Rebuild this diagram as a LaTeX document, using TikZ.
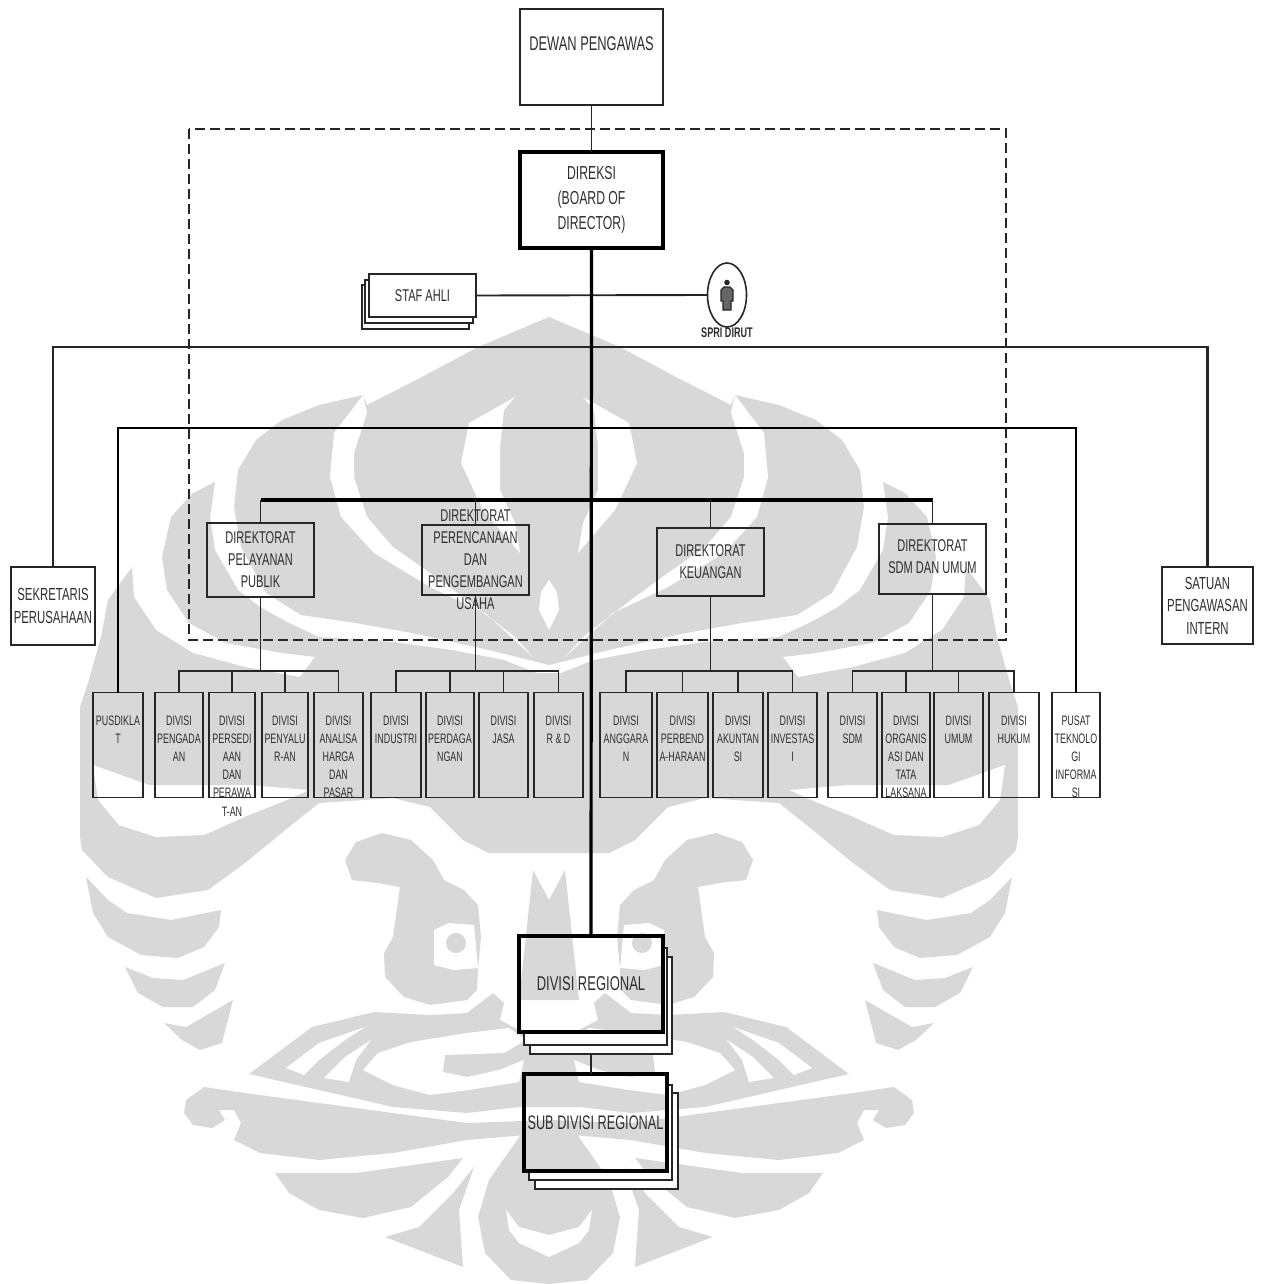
\documentclass[tikz,border=0pt]{standalone}
\usepackage{fontspec}
\setmainfont[FakeStretch=0.65]{Liberation Sans}
\usetikzlibrary{shapes.geometric}
\definecolor{wmgray}{HTML}{D8D8D8}
\definecolor{ink}{HTML}{262626}
\definecolor{txt}{HTML}{2E2E2E}
\tikzset{x=1pt,y=-1pt,every node/.style={text=txt,inner sep=0pt,outer sep=0pt,align=center},
link/.style={draw=ink,line width=1.9pt},bus/.style={draw=ink,line width=2.5pt},midbus/.style={draw=black,line width=2.8pt},bar/.style={draw=black,line width=3.2pt},
layer/.style={draw=ink,line width=1.2pt,fill=white},
box/.style={draw=ink,line width=1.8pt},heavy/.style={draw=black,line width=3.6pt},
dirbox/.style={box,minimum width=107pt},dirtext/.style={font=\fontsize{17}{22}\selectfont},
divlabel/.style={anchor=north,yshift=-23pt,font=\fontsize{13.7}{18.2}\selectfont}}
\begin{document}
\begin{tikzpicture}
\useasboundingbox (0,0) rectangle (1260,1284);
% watermark, one half mirrored about the axis
\foreach \s in {1,-1}{\begin{scope}[shift={(549,0)},xscale=\s]
\fill[wmgray] (0,317)--(-71,347)--(-127,377)--(-182,405)--(-186,395)--(-230,405)--(-267,420)--(-293,440)--(-311,470)--(-315,507)--(-308,547)--(-283,593)--(-248,615)--(-193,623)--(-137,633)--(-60,650)--(0,665)--cycle;
\fill[wmgray] (-334,482)--(-339,517)--(-334,550)--(-311,590)--(-289,607)--(-260,623)--(-230,637)--(-156,642)--(-97,650)--(-45,660)--(-12,673)--(0,673)--(0,853)--(-60,853)--(-86,840)--(-119,807)--(-156,798)--(-230,803)--(-260,827)--(-304,863)--(-341,890)--(-393,898)--(-441,877)--(-467,850)--(-469,837)--(-469,707)--(-461,683)--(-448,637)--(-441,600)--(-417,567)--(-415,597)--(-393,630)--(-356,653)--(-304,667)--(-249,677)--(-234,657)--(-267,653)--(-323,643)--(-360,623)--(-382,590)--(-387,557)--(-378,517)--(-356,493)--cycle;
\fill[white] (-186,395)--(-215,433)--(-219,477)--(-208,517)--(-175,553)--(-119,587)--(-64,613)--(-16,657)--(-34,637)--(-82,600)--(-119,573)--(-156,547)--(-182,517)--(-195,477)--(-195,453)--(-182,413)--cycle;
\fill[white] (-34,397)--(-80,423)--(-88,463)--(-66,510)--(-29,553)--(-34,523)--(-49,490)--(-49,447)--(-45,410)--cycle;
\fill[white] (0,580)--(-8,592)--(-10,610)--(0,630)--cycle;
\fill[white] (-456,765)--(-451,800)--(-430,825)--(-393,837)--(-345,835)--(-300,815)--(-262,800)--(-240,790)--(-300,785)--(-400,785)--cycle;
% snake head and eye
\fill[wmgray] (-204,860)--(-193,842)--(-167,833)--(-138,840)--(-116,860)--(-105,880)--(-85,890)--(-71,905)--(-68,937)--(-71,970)--(-72,990)--(-82,1000)--(-119,1005)--(-145,997)--(-164,977)--(-165,953)--(-156,937)--(-149,887)--(-171,883)--(-197,880)--cycle;
\fill[white] (-115,930)--(-100,923)--(-75,925)--(-71,968)--(-95,970)--(-115,965)--cycle;
\fill[wmgray] (-93,943) circle(10);
\fill[wmgray] (-30,1000)--(-16,870)--(0,900)--(0,1000)--cycle;
% lower wings
\fill[wmgray] (-300,1074)--(-237,1027)--(-175,1012)--(-119,1015)--(-82,1013)--(-56,993)--(-45,1003)--(-49,1020)--(-30,1030)--(0,1035)--(0,1107)--(-30,1107)--(-82,1113)--(-156,1107)--(-230,1090)--cycle;
\fill[white] (-186,1070)--(-171,1053)--(-138,1042)--(-82,1033)--(-40,1028)--(-23,1040)--(-45,1053)--(-104,1055)--(-106,1072)--(-82,1077)--(-50,1070)--(-25,1060)--(-30,1082)--(-80,1090)--(-119,1095)--(-156,1085)--cycle;
\fill[white] (-263,1068)--(-230,1043)--(-184,1027)--(-204,1040)--(-230,1060)--(-245,1075)--cycle;
\fill[white] (-225,1078)--(-204,1057)--(-178,1040)--(-193,1060)--(-200,1082)--cycle;
\fill[wmgray] (-363,1100)--(-345,1087)--(-304,1093)--(-230,1103)--(-156,1113)--(-82,1123)--(0,1120)--(0,1133)--(-82,1140)--(-156,1153)--(-230,1160)--(-289,1153)--(-315,1140)--(-308,1123)--(-315,1110)--(-330,1110)--(-324,1120)--(-337,1128)--(-356,1125)--(-365,1113)--cycle;
\fill[wmgray] (-274,1173)--(-193,1173)--(-86,1158)--(-101,1177)--(-138,1207)--(-186,1218)--(-230,1210)--(-260,1193)--cycle;
\fill[wmgray] (-164,1237)--(-130,1227)--(-96,1193)--(-75,1167)--(-90,1210)--(-86,1267)--(-130,1250)--cycle;
\fill[wmgray] (0,1133)--(-27,1133)--(-60,1180)--(-71,1217)--(-64,1253)--(-38,1280)--(0,1284)--cycle;
\fill[white] (-43,1210)--(-30,1227)--(0,1235)--(0,1257)--(-30,1243)--(-40,1230)--cycle;
% small crescents
\fill[wmgray] (-463,877)--(-441,900)--(-422,913)--(-378,920)--(-328,910)--(-330,927)--(-345,947)--(-371,958)--(-408,955)--(-441,937)--(-456,913)--cycle;
\fill[wmgray] (-424,967)--(-396,978)--(-366,980)--(-324,963)--(-334,990)--(-356,1007)--(-386,1007)--(-411,993)--cycle;
\fill[wmgray] (-385,1023)--(-363,1027)--(-316,1000)--(-327,1043)--(-349,1050)--(-367,1040)--cycle;
\end{scope}}
% dashed area
\draw[ink,line width=1.2pt,dash pattern=on 10pt off 5pt] (189,129) rectangle (1006,640);
% stacked sheets behind the boxes
\draw[layer] (362,285) rectangle (469,329);\draw[layer] (365,280) rectangle (473,323);
\foreach \xl/\xf/\xr/\yt/\yf/\yb in {530/667/672/957/1045/1054,524/663/667/948/1032/1045,535/672/678/1093/1180/1189,529/667/672/1085/1171/1180}
\draw[layer] (\xf,\yt)--(\xr,\yt)--(\xr,\yb)--(\xl,\yb)--(\xl,\yf)--(\xf,\yf)--cycle;
% top
\node[box,minimum width=143pt,minimum height=96pt,font=\fontsize{19.8}{24}\selectfont,text depth=26pt] (dewan) at (591.5,57) {DEWAN PENGAWAS};
\node[heavy,minimum width=143pt,minimum height=96pt,font=\fontsize{18.8}{25}\selectfont] (direksi) at (591.5,200) {DIREKSI\\(BOARD OF\\DIRECTOR)};
\node[box,fill=white,minimum width=107pt,minimum height=43pt,font=\fontsize{17}{20}\selectfont] (staf) at (422.5,295.5) {STAF AHLI};
\node[draw=ink,line width=1.6pt,ellipse,minimum width=39pt,minimum height=64pt] (spri) at (727,295) {};
\node[font=\fontsize{14}{16}\selectfont\bfseries] (spritxt) at (727,333) {SPRI DIRUT};
\fill[ink] (727,282.5) circle(2.8);
\draw[ink,line width=1.2pt,fill=black!60] (724,287)--(730,287)--(733,290)--(733,301)--(731,301)--(731,310)--(723,310)--(723,301)--(721,301)--(721,290)--cycle;
% side units
\node[box,minimum width=84pt,minimum height=78pt,font=\fontsize{17.5}{23}\selectfont] (sekretaris) at (53,606) {SEKRETARIS\\PERUSAHAAN};
\node[box,minimum width=91pt,minimum height=77pt,font=\fontsize{17.5}{22.5}\selectfont] (satuan) at (1207.5,605.5) {SATUAN\\PENGAWASAN\\INTERN};
% directorates
\node[dirbox,minimum height=74pt] (dpelayanan) at (260.5,560) {};
\node[dirbox,minimum height=70pt] (dplan) at (475.5,560) {};
\node[dirbox,minimum height=68pt] (dkeu) at (710.5,562) {};
\node[dirbox,minimum height=70pt] (dsdm) at (932.5,559) {};
\node[dirtext] (tpelayanan) at (dpelayanan) {DIREKTORAT\\PELAYANAN\\PUBLIK};
\node[dirtext] (tplan) at (dplan) {DIREKTORAT\\PERENCANAAN\\DAN\\PENGEMBANGAN\\USAHA};
\node[dirtext] (tkeu) at (dkeu) {DIREKTORAT\\KEUANGAN};
\node[dirtext,yshift=2pt] (tsdm) at (dsdm) {DIREKTORAT\\SDM DAN UMUM};
% divisions
\foreach \id/\xa/\xb/\txt in {pusdiklat/93/143/{PUSDIKLA\\T},pengadaan/155/203/{DIVISI\\PENGADA\\AN},persediaan/209/255/{DIVISI\\PERSEDI\\AAN\\DAN\\PERAWA\\T-AN},penyaluran/262/308/{DIVISI\\PENYALU\\R-AN},analisa/314/363/{DIVISI\\ANALISA\\HARGA\\DAN\\PASAR},
industri/371/421/{DIVISI\\INDUSTRI},perdagangan/426/474/{DIVISI\\PERDAGA\\NGAN},jasa/479/528/{DIVISI\\JASA},rnd/534/583/{DIVISI\\R \& D},
anggaran/600/652/{DIVISI\\ANGGARA\\N},perbendaharaan/657/708/{DIVISI\\PERBEND\\A-HARAAN},akuntansi/713/763/{DIVISI\\AKUNTAN\\SI},investasi/768/817/{DIVISI\\INVESTAS\\I},
sdm/828/877/{DIVISI\\SDM},organisasi/882/930/{DIVISI\\ORGANIS\\ASI DAN\\TATA\\LAKSANA},umum/934/983/{DIVISI\\UMUM},hukum/989/1039/{DIVISI\\HUKUM},pusat/1052/1100/{PUSAT\\TEKNOLO\\GI\\INFORMA\\SI}}
\node[box,minimum width={(\xb-\xa)*1pt},minimum height=105pt,label={[divlabel]north:\txt}] (\id) at ({(\xa+\xb)/2},745) {};
% regional
\node[heavy,minimum width=144pt,minimum height=96pt,font=\fontsize{20}{24}\selectfont] (regional) at (591,984) {DIVISI REGIONAL};
\node[heavy,minimum width=143pt,minimum height=97pt,font=\fontsize{19.6}{24}\selectfont] (subregional) at (595.5,1122.5) {SUB DIVISI REGIONAL};
\coordinate (regbot) at (591,1054);
% connectors
\draw[link] (dewan.south)--(direksi.north);
\draw[link] (staf.east)--(spri.west);
\coordinate (trunka) at (591,347);\coordinate (trunkb) at (591,428);\coordinate (trunkc) at (591,500);
\foreach \a in {sekretaris,satuan}{\draw[bus] (trunka)-|(\a.north);}
\foreach \a in {pusdiklat,pusat}{\draw[midbus] (trunkb)-|(\a.north);}
\draw[bar] (dpelayanan.north |- trunkc)--(dsdm.north |- trunkc);
\foreach \a in {dpelayanan,dplan,dkeu,dsdm}{\draw[link] (\a.north |- trunkc)--(\a.north);}
\foreach \a/\b/\c/\d/\e in {dpelayanan/pengadaan/persediaan/penyaluran/analisa,dplan/industri/perdagangan/jasa/rnd,dkeu/anggaran/perbendaharaan/akuntansi/investasi,dsdm/sdm/organisasi/umum/hukum}{
\coordinate (busdiv) at (\a.south |- 0,671);\draw[link] (\a.south)--(busdiv);
\foreach \k in {\b,\c,\d,\e}{\draw[link] (busdiv)-|(\k.north);}}
\draw[bar] (direksi.south)--(regional.north);
\draw[link] (regbot)--(regbot |- subregional.north);
\end{tikzpicture}
\end{document}
